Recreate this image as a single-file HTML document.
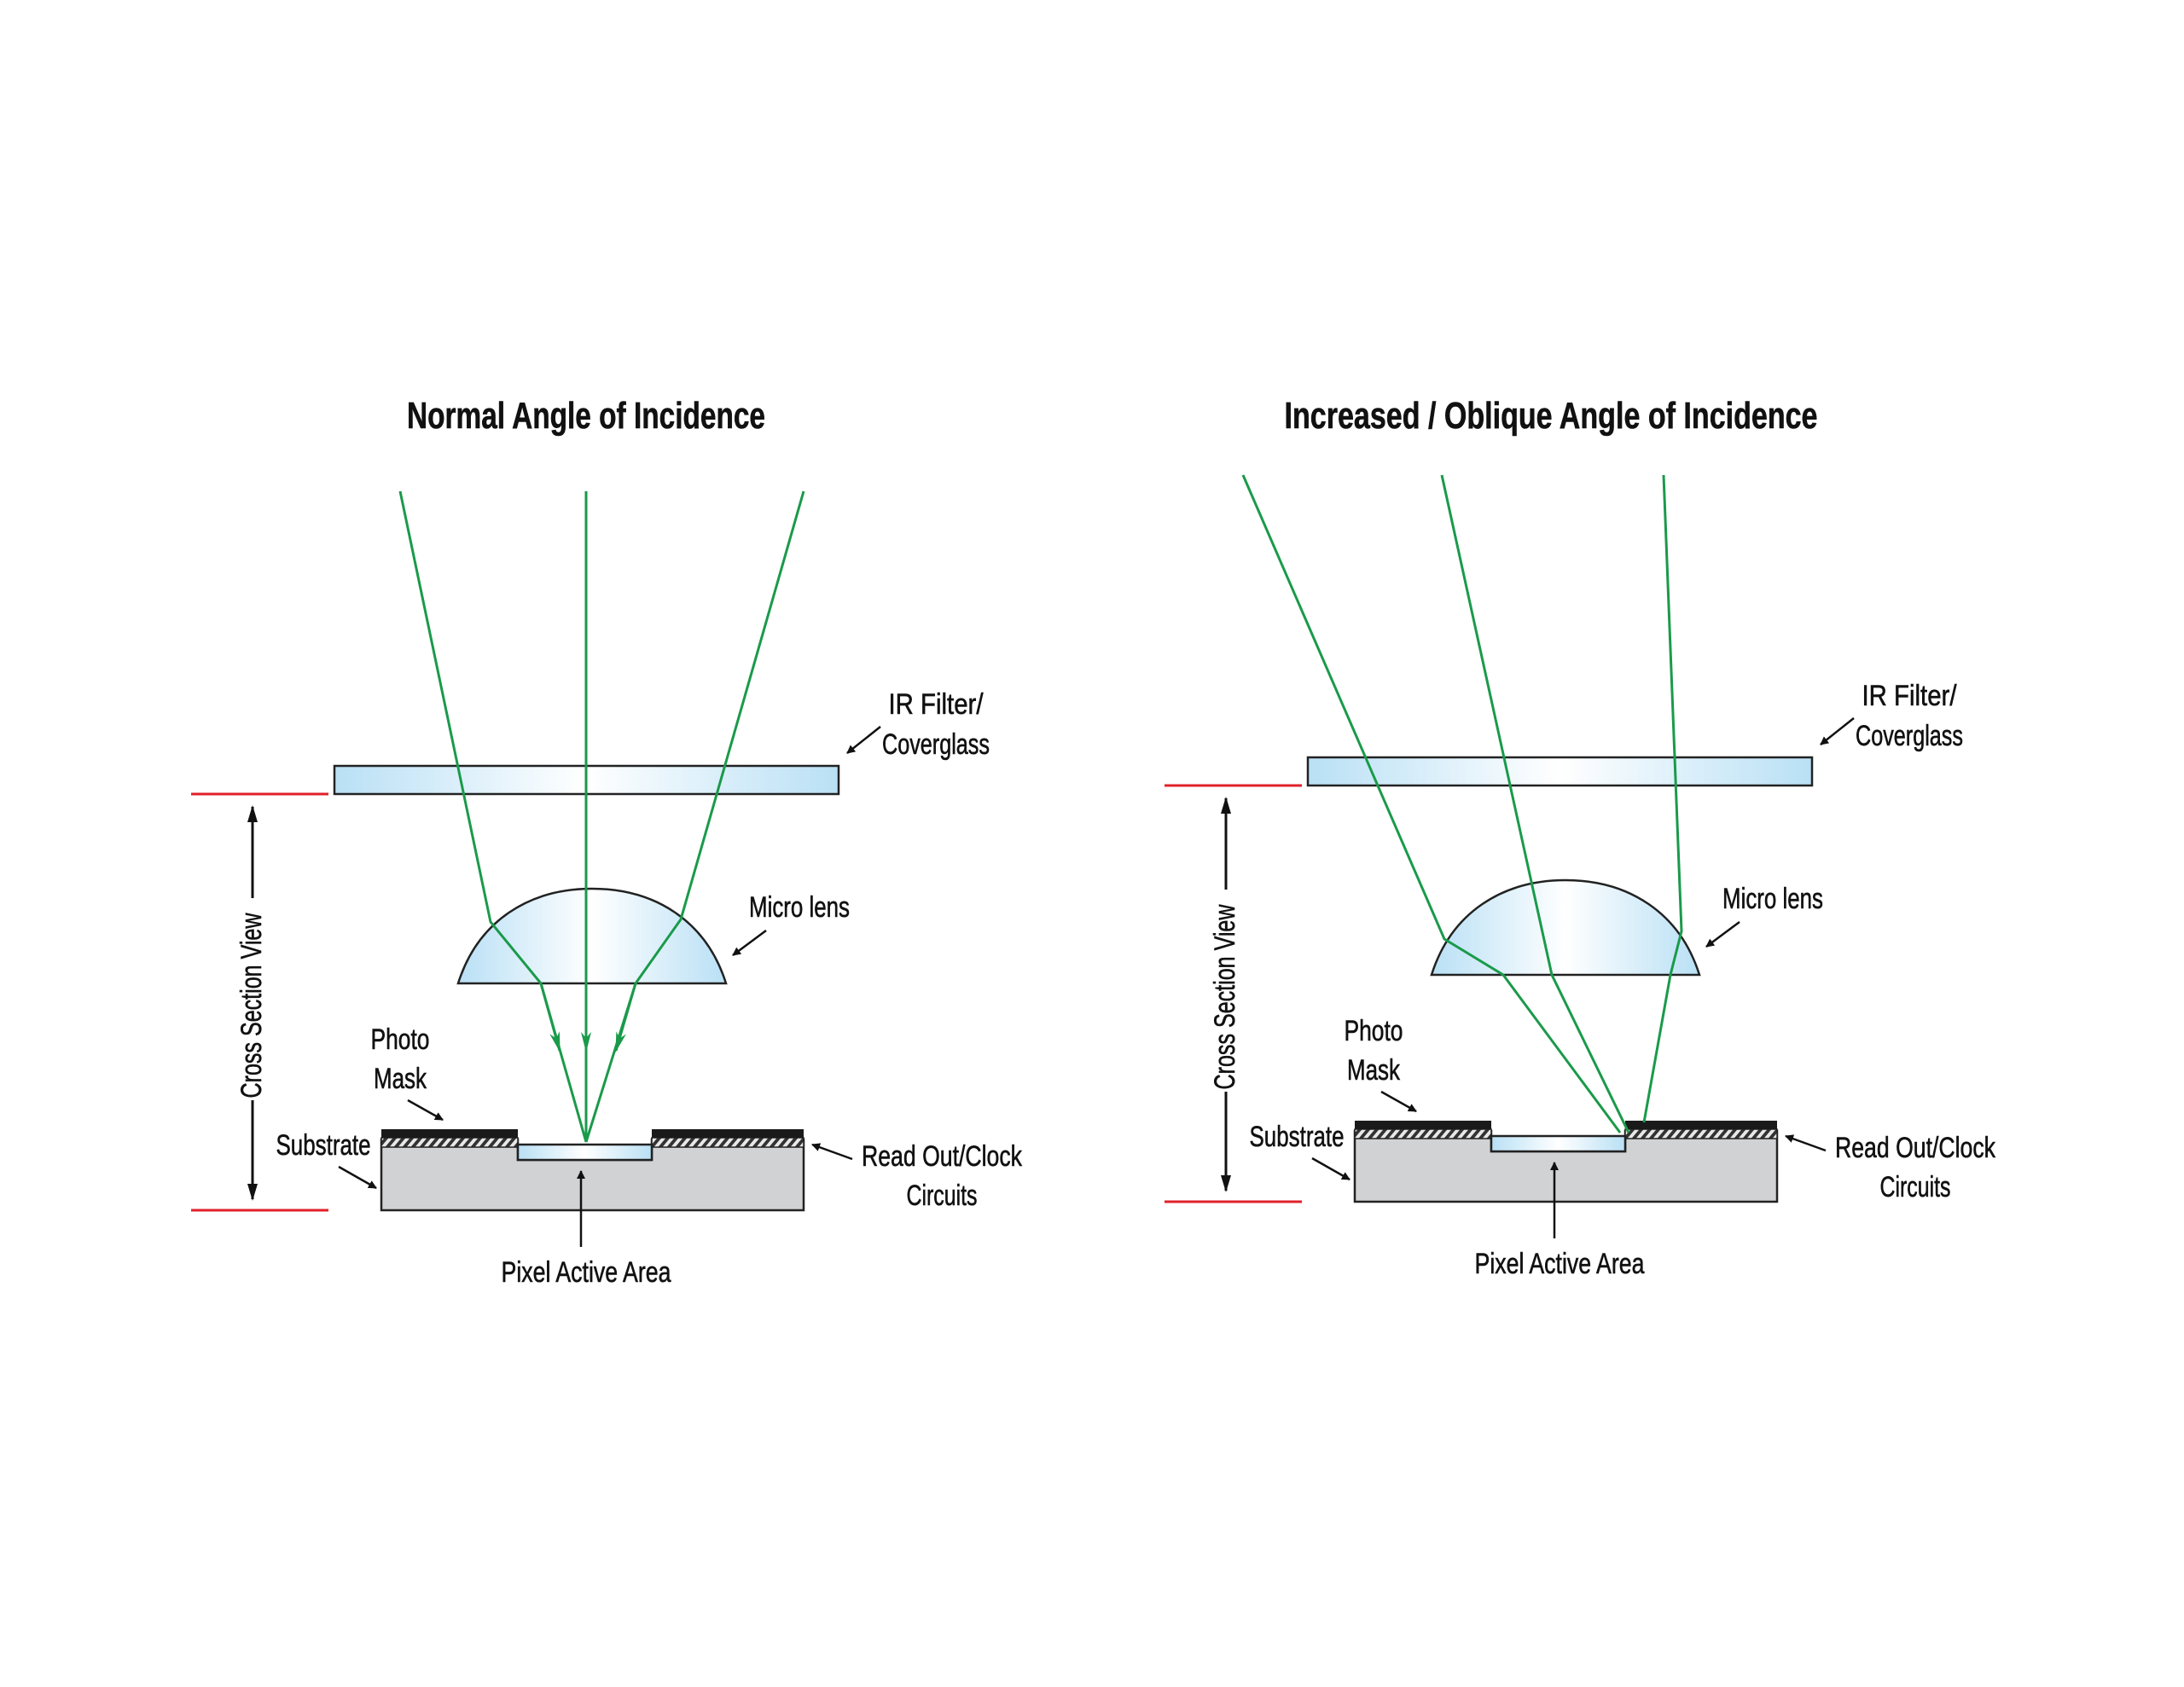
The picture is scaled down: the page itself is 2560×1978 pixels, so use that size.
<!DOCTYPE html>
<html><head><meta charset="utf-8"><style>
html,body{margin:0;padding:0;background:#fff;}
svg{display:block;}
text{font-family:"Liberation Sans Narrow","Liberation Sans",sans-serif;fill:#111;stroke:#111;stroke-width:0.6;}
</style></head><body>
<svg width="2560" height="1978" viewBox="0 0 2560 1978" xmlns="http://www.w3.org/2000/svg">
<defs>
<linearGradient id="gb" x1="0" x2="1" y1="0" y2="0">
<stop offset="0" stop-color="#b9e0f5"/><stop offset="0.5" stop-color="#ffffff"/><stop offset="1" stop-color="#b9e0f5"/>
</linearGradient>
<pattern id="hatch" width="10" height="12" patternUnits="userSpaceOnUse" patternTransform="skewX(-40)">
<rect width="10" height="12" fill="#e8e8e8"/><rect x="0" width="5" height="12" fill="#333"/>
</pattern>
<marker id="ah" markerWidth="10" markerHeight="10" refX="9" refY="5" orient="auto" markerUnits="userSpaceOnUse">
<path d="M0,0 L10,5 L0,10 z" fill="#111"/>
</marker>
<marker id="ahl" viewBox="0 0 20 14" markerWidth="20" markerHeight="14" refX="18" refY="7" orient="auto" markerUnits="userSpaceOnUse">
<path d="M0,1 L20,7 L0,13 z" fill="#111"/>
</marker>
<marker id="ga" viewBox="0 0 24 12" markerWidth="24" markerHeight="12" refX="22" refY="6" orient="auto" markerUnits="userSpaceOnUse">
<path d="M0,0 L24,6 L0,12 L7,6 z" fill="#1a9a4a"/>
</marker>
<g id="base">
  <rect x="392" y="898" width="591" height="33" fill="url(#gb)" stroke="#222" stroke-width="2.5"/>
  <line x1="224" y1="931" x2="385" y2="931" stroke="#e0202a" stroke-width="3"/>
  <line x1="224" y1="1419" x2="385" y2="1419" stroke="#e0202a" stroke-width="3"/>
  <line x1="296" y1="1053" x2="296" y2="946" stroke="#111" stroke-width="3" marker-end="url(#ahl)"/>
  <line x1="296" y1="1290" x2="296" y2="1406" stroke="#111" stroke-width="3" marker-end="url(#ahl)"/>
  <text transform="translate(306,1179) rotate(-90)" font-size="34" text-anchor="middle" textLength="217" lengthAdjust="spacingAndGlyphs">Cross Section View</text>
  <path d="M537,1153 C560,1080 620,1042 694,1042 C768,1042 828,1080 851,1153 Z" fill="url(#gb)" stroke="#222" stroke-width="2.5"/>
  <path d="M447,1336 L607,1336 L607,1360 L764,1360 L764,1336 L942,1336 L942,1419 L447,1419 Z" fill="#d1d2d4" stroke="#222" stroke-width="2.5"/>
  <rect x="447" y="1334" width="160" height="11" fill="url(#hatch)" stroke="#222" stroke-width="1.5"/>
  <rect x="764" y="1334" width="178" height="11" fill="url(#hatch)" stroke="#222" stroke-width="1.5"/>
  <rect x="447" y="1324" width="160" height="10" fill="#1a1a1a"/>
  <rect x="764" y="1324" width="178" height="10" fill="#1a1a1a"/>
  <rect x="607" y="1342" width="157" height="18" fill="url(#gb)" stroke="#222" stroke-width="2.5"/>
  <text x="1097" y="837" font-size="34" text-anchor="middle" textLength="111" lengthAdjust="spacingAndGlyphs">IR Filter/</text>
  <text x="1097" y="884" font-size="34" text-anchor="middle" textLength="126" lengthAdjust="spacingAndGlyphs">Coverglass</text>
  <line x1="1032" y1="852" x2="993" y2="883" stroke="#111" stroke-width="2.5" marker-end="url(#ah)"/>
  <text x="937" y="1075" font-size="34" text-anchor="middle" textLength="118" lengthAdjust="spacingAndGlyphs">Micro lens</text>
  <line x1="898" y1="1091" x2="859" y2="1120" stroke="#111" stroke-width="2.5" marker-end="url(#ah)"/>
  <text x="469" y="1230" font-size="34" text-anchor="middle" textLength="69" lengthAdjust="spacingAndGlyphs">Photo</text>
  <text x="469" y="1276" font-size="34" text-anchor="middle" textLength="62" lengthAdjust="spacingAndGlyphs">Mask</text>
  <line x1="478" y1="1290" x2="519" y2="1313" stroke="#111" stroke-width="2.5" marker-end="url(#ah)"/>
  <text x="379" y="1354" font-size="34" text-anchor="middle" textLength="111" lengthAdjust="spacingAndGlyphs">Substrate</text>
  <line x1="397" y1="1368" x2="441" y2="1393" stroke="#111" stroke-width="2.5" marker-end="url(#ah)"/>
  <text x="1104" y="1367" font-size="34" text-anchor="middle" textLength="188" lengthAdjust="spacingAndGlyphs">Read Out/Clock</text>
  <text x="1104" y="1413" font-size="34" text-anchor="middle" textLength="83" lengthAdjust="spacingAndGlyphs">Circuits</text>
  <line x1="999" y1="1359" x2="952" y2="1342" stroke="#111" stroke-width="2.5" marker-end="url(#ah)"/>
  <text x="687" y="1503" font-size="34" text-anchor="middle" textLength="199" lengthAdjust="spacingAndGlyphs">Pixel Active Area</text>
  <line x1="681" y1="1462" x2="681" y2="1373" stroke="#111" stroke-width="2.5" marker-end="url(#ah)"/>
</g>
</defs>

<text x="687" y="502" font-size="44" font-weight="bold" text-anchor="middle" textLength="420" lengthAdjust="spacingAndGlyphs">Normal Angle of Incidence</text>
<use href="#base"/>
<g fill="none" stroke="#1a9a4a" stroke-width="3">
  <polyline points="469,576 575,1081 634,1153 687,1339"/>
  <polyline points="942,576 798,1078 745,1153 687,1339"/>
  <line x1="687" y1="576" x2="687" y2="1339"/>
  <line x1="634" y1="1153" x2="656" y2="1232" marker-end="url(#ga)"/>
  <line x1="687" y1="1153" x2="687" y2="1232" marker-end="url(#ga)"/>
  <line x1="745" y1="1153" x2="722" y2="1232" marker-end="url(#ga)"/>
</g>

<text x="1818" y="502" font-size="44" font-weight="bold" text-anchor="middle" textLength="625" lengthAdjust="spacingAndGlyphs">Increased / Oblique Angle of Incidence</text>
<g transform="translate(1141,-10)">
  <use href="#base"/>
  <g fill="none" stroke="#1a9a4a" stroke-width="3">
    <polyline points="316,567 552,1111 621,1153 758,1338"/>
    <polyline points="549,567 678,1153 768,1338"/>
    <polyline points="809,567 830,1102 817,1153 786,1326"/>
  </g>
</g>
</svg>
</body></html>
